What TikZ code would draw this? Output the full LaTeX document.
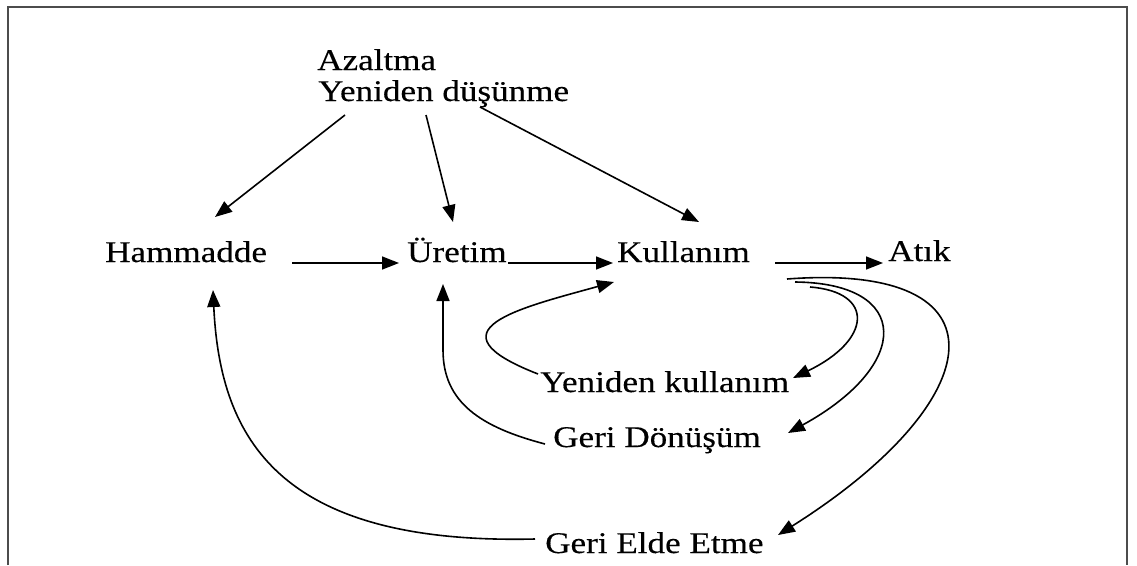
\documentclass[tikz,border=0pt]{standalone}
\usepackage{fontspec}
\setmainfont{Liberation Serif}[FakeStretch=1.17,FakeBold=0.3]
\usetikzlibrary{arrows.meta,calc}
\begin{document}
\begin{tikzpicture}[x=1pt,y=-1pt,
  lbl/.style={anchor=base west,inner sep=0pt,font=\fontsize{30}{34}\selectfont},
  arr/.style={line width=1.6pt,-{Triangle[length=17pt,width=13pt]}},
  frame/.style={line width=1.5pt,draw=black!70}]
\useasboundingbox (0,0) rectangle (1137,565);
\draw[frame] (8,565) -- (8,7) -- (1127,7) -- (1127,565);

\node[lbl] (az) at (317,70) {Azaltma};
\node[lbl] (yd) at (318,101) {Yeniden düşünme};
\node[lbl] (ham) at (105,262) {Hammadde};
\node[lbl] (ure) at (407,262) {Üretim};
\node[lbl] (kul) at (617,262) {Kullanım};
\node[lbl] (atik) at (888,261) {Atık};
\node[lbl] (yk) at (540,392) {Yeniden kullanım};
\node[lbl] (gd) at (553,447) {Geri Dönüşüm};
\node[lbl] (ged) at (545,553) {Geri Elde Etme};

% from the top
\draw[arr] ($(yd.base west)+(27,14)$) -- ($(ham.base west)+(110,-45)$);
\draw[arr] ($(yd.base west)+(108,14)$) -- ($(ure.base west)+(46,-40)$);
\draw[arr] ($(yd.base west)+(162,6)$) -- ($(kul.base west)+(82,-40)$);

% main row
\draw[arr] ($(ham.base west)+(187,1)$) -- ($(ure.base west)+(-8,1)$);
\draw[arr] ($(ure.base west)+(101,1)$) -- ($(kul.base west)+(-4,1)$);
\draw[arr] ($(kul.base west)+(158,1)$) -- ($(atik.base west)+(-5,2)$);

% loops back
\draw[arr] ($(yk.base west)+(-2,-18)$) .. controls (425,330) and (520,308) .. ($(kul.base west)+(-3,20)$);
\draw[arr] ($(gd.base west)+(-8,-3)$) .. controls (480,427) and (443,402) .. (443,350) -- ($(ure.base west)+(36,22)$);
\draw[arr] ($(ged.base west)+(-10,-14)$) .. controls (280,545) and (220,440) .. ($(ham.base west)+(108,28)$);

% from Kullanım down
\draw[arr] ($(kul.base west)+(193,25)$) .. controls (875,292) and (872,340) .. ($(yk.base west)+(253,-14)$);
\draw[arr] ($(kul.base west)+(178,20)$) .. controls (912,283) and (912,365) .. ($(gd.base west)+(235,-14)$);
\draw[arr] ($(kul.base west)+(170,17)$) .. controls (1012,262) and (992,400) .. ($(ged.base west)+(233,-18)$);
\end{tikzpicture}
\end{document}
